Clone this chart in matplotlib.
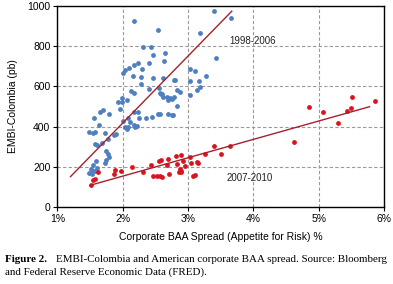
import numpy as np
import matplotlib
matplotlib.use("Agg")
import matplotlib.pyplot as plt

# 1998-2006 (blue) readings: BAA spread %, EMBI-Colombia pb
blue_x = [2.18, 2.54, 2.31, 2.43, 2.47, 2.65, 2.64, 2.41, 2.24, 2.17, 2.30, 2.09, 2.03, 2.00,
          2.16, 2.28, 2.46, 2.62, 2.28, 2.40, 2.55, 2.12, 2.17, 2.57, 2.59, 2.62, 2.68, 2.72,
          2.76, 2.79, 2.70, 2.83, 1.99, 1.93, 1.99, 2.06, 1.96, 1.70, 1.66, 1.79, 1.56, 2.08,
          2.17, 2.24, 2.25, 2.35, 2.45, 2.54, 2.69, 2.75, 2.01, 2.11, 2.18, 2.19, 2.08, 2.06,
          1.63, 1.48, 1.57, 1.55, 1.73, 1.90, 1.87, 1.78, 1.57, 1.61, 1.69, 1.75, 1.78, 1.79,
          1.75, 1.73, 1.59, 1.54, 1.61, 1.55, 1.49, 1.53, 1.57, 1.52, 2.04, 2.22,
          3.40, 3.66, 3.19, 3.43, 3.03, 3.10, 2.78, 2.80, 3.03, 3.17, 3.28, 3.19, 3.14, 2.83,
          2.88, 2.60, 3.03, 2.77, 2.57]
blue_y = [925, 878, 795, 795, 755, 768, 725, 716, 715, 705, 688, 691, 680, 668,
          650, 647, 640, 642, 610, 587, 590, 577, 567, 567, 560, 548, 545, 542,
          538, 547, 534, 504, 541, 524, 524, 534, 488, 481, 471, 464, 441, 444,
          474, 472, 444, 444, 448, 461, 461, 458, 428, 421, 408, 398, 398, 388,
          408, 375, 375, 368, 368, 365, 360, 340, 313, 307, 320, 277, 264, 250,
          234, 217, 230, 210, 194, 181, 171, 164, 180, 187, 400, 403,
          977, 940, 867, 742, 686, 676, 630, 632, 627, 626, 651, 596, 580, 584,
          574, 561, 555, 458, 464]

# 2007-2010 (red)
red_x = [1.51, 1.55, 1.58, 1.62, 1.88, 1.98, 1.87, 2.15, 2.31, 2.43, 2.47, 2.53, 2.57, 2.55,
         2.58, 2.60, 2.68, 2.69, 2.71, 2.82, 2.90, 2.83, 2.93, 2.95, 2.88, 2.89, 2.86, 2.90,
         3.04, 3.03, 3.13, 3.16, 3.07, 3.10, 3.26, 3.40, 3.50, 3.64, 4.63, 4.85, 5.07, 5.30,
         5.43, 5.49, 5.51, 5.87]
red_y = [112, 134, 138, 174, 186, 180, 166, 197, 174, 210, 154, 154, 153, 230,
         234, 151, 210, 238, 164, 252, 260, 214, 227, 204, 187, 180, 176, 172,
         217, 250, 224, 217, 154, 161, 265, 302, 265, 302, 323, 496, 473, 419,
         476, 493, 546, 529]

# trend lines as drawn
blue_fit_x = [1.20, 3.67]
blue_fit_y = [151, 974]
red_fit_x = [1.50, 5.78]
red_fit_y = [108, 499]

caption_bold = "Figure 2."
caption_1 = "EMBI-Colombia and American corporate BAA spread. Source: Bloomberg"
caption_2 = "and Federal Reserve Economic Data (FRED)."

plt.rcParams['font.family'] = ['Liberation Sans', 'DejaVu Sans']

fig = plt.figure(figsize=(3.93, 2.84), dpi=100)
ax = fig.add_axes([0.146, 0.271, 0.831, 0.708])

ax.scatter(blue_x, blue_y, s=12, color="#4f7fc0", linewidths=0, zorder=3)
ax.scatter(red_x, red_y, s=12, color="#d9141e", linewidths=0, zorder=3)
ax.plot(blue_fit_x, blue_fit_y, color="#a6202c", lw=1, zorder=4)
ax.plot(red_fit_x, red_fit_y, color="#a6202c", lw=1, zorder=4)

ax.text(3.99, 827, "1998-2006", fontsize=7, ha="center", va="center", color="#222222")
ax.text(3.94, 144, "2007-2010", fontsize=7, ha="center", va="center", color="#222222")

ax.set_xlim(1, 6)
ax.set_ylim(0, 1000)
ax.set_xticks([1, 2, 3, 4, 5, 6])
ax.set_xticklabels(["1%", "2%", "3%", "4%", "5%", "6%"])
ax.set_yticks([0, 200, 400, 600, 800, 1000])
ax.tick_params(labelsize=7.5, length=3, width=0.8, pad=2)
ax.grid(True, ls=(0, (3, 2)), color="#999999", lw=0.8)
ax.set_axisbelow(True)
for s in ax.spines.values():
    s.set_linewidth(1)

ax.set_xlabel("Corporate BAA Spread (Appetite for Risk) %", fontsize=7.5, labelpad=6)
ax.set_ylabel("EMBI-Colombia (pb)", fontsize=7.5, labelpad=7)

# caption: bold lead-in then the rest on the same line
t0 = fig.text(5 / 393, 1 - 262 / 284, caption_bold, fontsize=7.9,
              family="Liberation Serif", fontweight="bold")
fig.canvas.draw()
bb = t0.get_window_extent()
fig.text((bb.x1 + 9) / 393, 1 - 262 / 284, caption_1, fontsize=7.9,
         family="Liberation Serif")
fig.text(5 / 393, 1 - 275 / 284, caption_2, fontsize=7.9, family="Liberation Serif")

fig.savefig("out.png", dpi=100)
